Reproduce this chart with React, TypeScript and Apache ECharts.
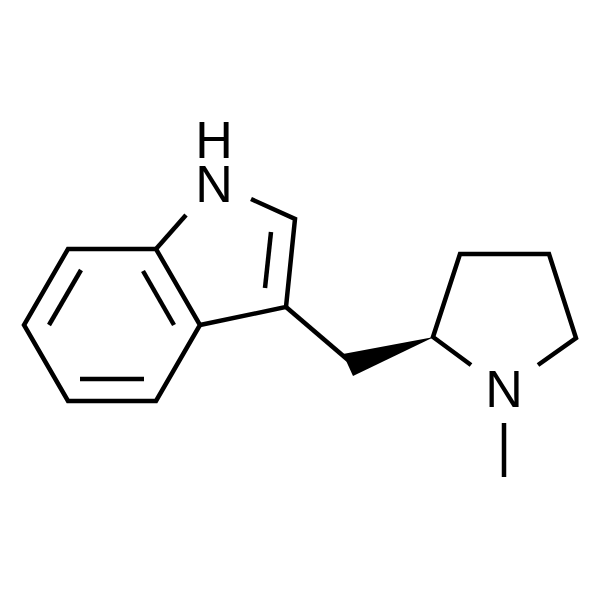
import React, { useEffect, useRef } from "react";
import * as echarts from "echarts";

type Pt = [number, number];

const benzeneRing: Pt[] = [[68, 249], [156, 249], [200, 325], [156, 401], [68, 401], [24, 325]];
const pyrrolidineChain: Pt[] = [[471, 365], [433, 337], [460, 254], [549, 254], [576, 338], [538, 365]];
const pyrroleChain: Pt[] = [[251, 199], [295, 219], [286, 307], [200, 325]];
const singleBonds: Pt[][] = [
  [[156, 249], [186, 215]],
  [[286, 307], [348, 360]],
  [[504, 423], [504, 477]],
];
const innerBonds: Pt[][] = [
  [[81, 270], [49, 325]],
  [[143, 271], [174, 325]],
  [[80, 379], [144, 379]],
  [[271, 232], [265, 288]],
];
const wedge: Pt[] = [[434, 337], [343, 354], [353, 376]];
const atomLabels: { text: string; at: Pt }[] = [
  { text: "H", at: [214, 140] },
  { text: "N", at: [214, 184] },
  { text: "N", at: [504, 389] },
];

const openLines: Pt[][] = [pyrrolidineChain, pyrroleChain, ...singleBonds, ...innerBonds];
const INK = "#000000";

export default function App() {
  const ref = useRef<HTMLDivElement>(null);
  useEffect(() => {
    const chart = echarts.init(ref.current!, undefined, { renderer: "svg" });
    const toPx = (api: any, pts: Pt[]) => pts.map((p) => api.coord(p));
    const lineStyle = { stroke: INK, lineWidth: 4.5, fill: "none", lineJoin: "miter", lineCap: "butt" };
    chart.setOption({
      animation: false,
      backgroundColor: "#ffffff",
      grid: { left: 0, right: 0, top: 0, bottom: 0 },
      xAxis: { type: "value", min: 0, max: 600, show: false },
      yAxis: { type: "value", min: 0, max: 600, inverse: true, show: false },
      series: [
        {
          type: "custom",
          name: "benzene",
          data: [benzeneRing[0]],
          renderItem: (_: any, api: any) => ({
            type: "polygon",
            shape: { points: toPx(api, benzeneRing) },
            style: lineStyle,
          }),
        },
        {
          type: "custom",
          name: "bonds",
          data: openLines.map((l) => l[0]),
          renderItem: (p: any, api: any) => ({
            type: "polyline",
            shape: { points: toPx(api, openLines[p.dataIndex]) },
            style: lineStyle,
          }),
        },
        {
          type: "custom",
          name: "wedge",
          data: [wedge[0]],
          renderItem: (_: any, api: any) => ({
            type: "polygon",
            shape: { points: toPx(api, wedge) },
            style: { fill: INK, stroke: "none" },
          }),
        },
        {
          type: "custom",
          name: "atoms",
          data: atomLabels.map((a) => a.at),
          renderItem: (p: any, api: any) => {
            const [x, y] = api.coord(atomLabels[p.dataIndex].at);
            return {
              type: "text",
              x,
              y,
              style: {
                text: atomLabels[p.dataIndex].text,
                fontFamily: "Liberation Sans",
                fontSize: 52,
                lineHeight: 40,
                fill: INK,
                align: "center",
                verticalAlign: "middle",
              },
            };
          },
        },
      ],
    });
    return () => chart.dispose();
  }, []);
  return (
    <div
      ref={ref}
      style={{ position: "fixed", left: 0, top: 0, width: 600, height: 600 }}
    />
  );
}
